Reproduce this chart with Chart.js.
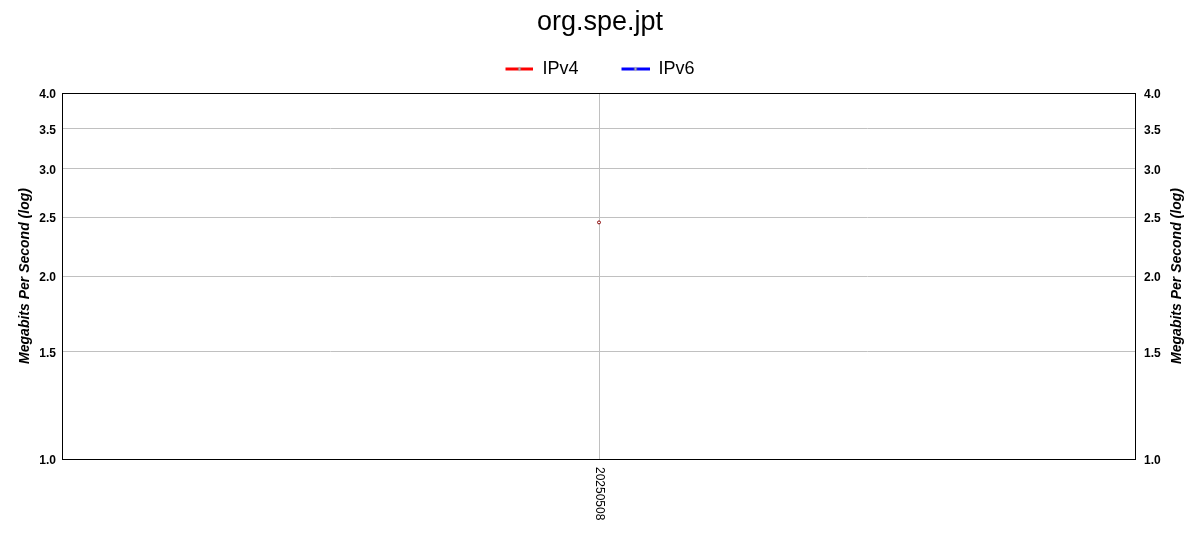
<!DOCTYPE html>
<html>
<head>
<meta charset="utf-8">
<script src="https://cdn.jsdelivr.net/npm/chart.js@4/dist/chart.umd.min.js"></script>
<style>
  html, body { margin: 0; padding: 0; background: #fff; }
  #wrap { width: 1200px; height: 550px; }
</style>
</head>
<body>
<div id="wrap"><canvas id="chart" width="1200" height="550"></canvas></div>
<script>
// dados do gráfico
const labels = ['20250508'];
const ipv4Values = [2.45];
const ipv6Values = [null];
const yTickValues = [1.0, 1.5, 2.0, 2.5, 3.0, 3.5, 4.0];

const FONT = "'Liberation Sans', Arial, sans-serif";
const AXIS_TITLE = 'Megabits Per Second (log)';
const GRID = '#c0c0c0';

// marcador da legenda: linha com um pontinho no meio
function makeMarker(color) {
    const gap = 33;
    const c = document.createElement('canvas');
    c.width = gap + 28;
    c.height = 9;
    const ctx = c.getContext('2d');
    ctx.strokeStyle = color;
    ctx.lineWidth = 3;
    ctx.beginPath();
    ctx.moveTo(gap, 4.5);
    ctx.lineTo(gap + 28, 4.5);
    ctx.stroke();
    ctx.fillStyle = '#fff';
    ctx.strokeStyle = '#333';
    ctx.lineWidth = 0.6;
    ctx.beginPath();
    ctx.arc(gap + 14, 4.5, 1.3, 0, Math.PI * 2);
    ctx.fill();
    ctx.stroke();
    return c;
}

const markers = [makeMarker('#ff0000'), makeMarker('#0000ff')];

// ajustes de layout: legenda, borda, título da direita, rótulo do eixo x
const layoutPlugin = {
    id: 'layoutPlugin',
    beforeLayout(chart) {
        const lg = chart.legend;
        if (lg && !lg._patched) {
            const fit = lg.fit.bind(lg);
            lg.fit = function () { fit(); this.height = 43; };
            lg._patched = true;
        }
    },
    afterLayout(chart) {
        if (chart.legend) {
            chart.legend.left -= 16.5;
            chart.legend.right -= 16.5;
        }
    },
    afterDraw(chart) {
        const { ctx, chartArea: a } = chart;
        const xScale = chart.scales.x;
        ctx.save();
        ctx.strokeStyle = '#000';
        ctx.lineWidth = 1;
        ctx.strokeRect(Math.round(a.left) + 0.5, Math.round(a.top) + 0.5,
            Math.round(a.right - a.left) - 1, Math.round(a.bottom - a.top));

        // título do eixo da direita (lido de baixo para cima)
        ctx.font = `italic bold 14px ${FONT}`;
        ctx.fillStyle = '#000';
        ctx.textAlign = 'center';
        ctx.textBaseline = 'middle';
        ctx.translate(1177, (a.top + a.bottom) / 2);
        ctx.rotate(-Math.PI / 2);
        ctx.fillText(AXIS_TITLE, 0, 0);
        ctx.restore();

        // rótulos do eixo x girados 90° no sentido horário
        ctx.save();
        ctx.font = `12px ${FONT}`;
        ctx.fillStyle = '#000';
        ctx.textAlign = 'left';
        ctx.textBaseline = 'middle';
        labels.forEach((lab, i) => {
            const x = xScale.getPixelForValue(i);
            ctx.save();
            ctx.translate(x, a.bottom + 8);
            ctx.rotate(Math.PI / 2);
            ctx.fillText(lab, 0, 0);
            ctx.restore();
        });
        ctx.restore();
    }
};

const setTicks = (scale) => {
    scale.ticks = yTickValues.map(v => ({ value: v }));
};

new Chart(document.getElementById('chart'), {
    type: 'line',
    data: {
        labels: labels,
        datasets: [
            {
                label: 'IPv4',
                data: ipv4Values,
                borderColor: '#ff0000',
                backgroundColor: '#ffffff',
                pointBorderColor: '#880000',
                pointBackgroundColor: '#ffffff',
                pointRadius: 1.5,
                pointBorderWidth: 1,
                borderWidth: 2,
                yAxisID: 'y'
            },
            {
                label: 'IPv6',
                data: ipv6Values,
                borderColor: '#0000ff',
                backgroundColor: '#ffffff',
                pointBorderColor: '#000088',
                pointBackgroundColor: '#ffffff',
                pointRadius: 1.5,
                pointBorderWidth: 1,
                borderWidth: 2,
                yAxisID: 'y'
            }
        ]
    },
    options: {
        responsive: false,
        animation: false,
        layout: { padding: 0 },
        plugins: {
            title: {
                display: true,
                text: 'org.spe.jpt',
                color: '#000',
                font: { family: FONT, size: 27, weight: 'normal' },
                padding: { top: 6, bottom: 11.6 }
            },
            legend: {
                display: true,
                position: 'top',
                labels: {
                    color: '#000',
                    font: { family: FONT, size: 18 },
                    usePointStyle: true,
                    pointStyleWidth: 61,
                    padding: 10,
                    generateLabels(chart) {
                        const items = Chart.defaults.plugins.legend.labels.generateLabels(chart);
                        return items.map((it, i) => ({ ...it, pointStyle: markers[i] }));
                    }
                }
            },
            tooltip: { enabled: false }
        },
        scales: {
            x: {
                type: 'category',
                offset: true,
                grid: { color: GRID, drawTicks: false, offset: false },
                border: { display: false },
                ticks: { display: false },
                afterFit(scale) { scale.height = 91; }
            },
            y: {
                type: 'logarithmic',
                position: 'left',
                min: 1,
                max: 4,
                afterBuildTicks: setTicks,
                grid: { color: GRID, drawTicks: false },
                border: { display: false },
                ticks: {
                    color: '#000',
                    padding: 6,
                    labelOffset: 2,
                    font: { family: FONT, size: 12, weight: 'bold' },
                    callback: (v) => Number(v).toFixed(1)
                },
                title: {
                    display: true,
                    text: AXIS_TITLE,
                    color: '#000',
                    font: { family: FONT, size: 14, weight: 'bold', style: 'italic' },
                    padding: { top: 17, bottom: 0 }
                },
                afterFit(scale) { scale.width = 62; }
            },
            y2: {
                type: 'logarithmic',
                position: 'right',
                min: 1,
                max: 4,
                afterBuildTicks: setTicks,
                grid: { display: false, drawTicks: false },
                border: { display: false },
                ticks: {
                    color: '#000',
                    padding: 8,
                    labelOffset: 2,
                    font: { family: FONT, size: 12, weight: 'bold' },
                    callback: (v) => Number(v).toFixed(1)
                },
                afterFit(scale) { scale.width = 64; }
            }
        }
    },
    plugins: [layoutPlugin]
});
</script>
</body>
</html>
